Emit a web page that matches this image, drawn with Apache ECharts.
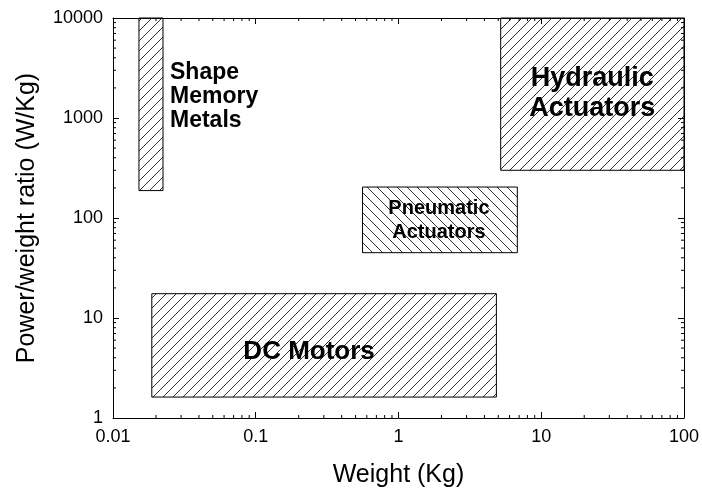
<!DOCTYPE html>
<html><head><meta charset="utf-8">
<script src="https://cdn.jsdelivr.net/npm/echarts@6/dist/echarts.min.js"></script>
<style>html,body{margin:0;padding:0;background:#fff}#c{width:702px;height:494px}</style>
</head><body><div id="c"></div>
<script>
// Region data (weight in Kg, power/weight ratio in W/Kg)
const names = ['Shape\nMemory\nMetals', 'Hydraulic\nActuators', 'Pneumatic\nActuators', 'DC Motors'];
const weightMin = [0.0152, 5.2, 0.56, 0.0187];
const weightMax = [0.0224, 100, 6.8, 4.85];
const ratioMin = [188, 300, 45, 1.62];
const ratioMax = [10000, 10000, 204, 17.5];
const hatchDir = ['/', '/', '\\', '/'];
const xMinorTicks = [];
const yMinorTicks = [];
[0.01, 0.1, 1, 10].forEach(d => { for (let k = 2; k <= 9; k++) xMinorTicks.push(+(d * k).toPrecision(3)); });
[1, 10, 100, 1000].forEach(d => { for (let k = 2; k <= 9; k++) yMinorTicks.push(d * k); });

function hatch(dir) {
  const s = 10, c = document.createElement('canvas');
  c.width = s; c.height = s;
  const g = c.getContext('2d');
  g.strokeStyle = '#333'; g.lineWidth = 1;
  g.beginPath();
  if (dir === '/') {
    g.moveTo(-1, s + 1); g.lineTo(s + 1, -1);
    g.moveTo(-2, 2); g.lineTo(2, -2);
    g.moveTo(s - 2, s + 2); g.lineTo(s + 2, s - 2);
  } else {
    g.moveTo(-1, -1); g.lineTo(s + 1, s + 1);
    g.moveTo(-2, s - 2); g.lineTo(2, s + 2);
    g.moveTo(s - 2, -2); g.lineTo(s + 2, 2);
  }
  g.stroke();
  return c;
}

const labelStyle = [
  {size: 23, lh: 24, mode: 'right'},
  {size: 27, lh: 30, mode: 'center', dx: 0, dy: -1},
  {size: 20, lh: 24, mode: 'center', dx: -1, dy: 1},
  {size: 26, lh: 30, mode: 'center', dx: -15, dy: 6}
];

const chart = echarts.init(document.getElementById('c'), null, {renderer: 'canvas'});
const axisCommon = {
  axisLine: {show: true, lineStyle: {color: '#000', width: 1}},
  axisTick: {show: true, inside: true, length: 6, lineStyle: {color: '#000'}},
  splitLine: {show: false},
  minorTick: {show: false}
};
const FONT = 'Liberation Sans, Arial, sans-serif';
const labelFont = {color: '#000', fontSize: 18, fontFamily: FONT};
chart.setOption({
  animation: false,
  backgroundColor: '#fff',
  grid: {left: 113, right: 17, top: 18, bottom: 76},
  xAxis: [
    Object.assign({type: 'log', logBase: 10, min: 0.01, max: 100, position: 'bottom',
      name: 'Weight (Kg)', nameLocation: 'middle', nameGap: 45,
      nameTextStyle: {color: '#000', fontSize: 25, fontFamily: FONT},
      axisLabel: Object.assign({margin: 10, formatter: v => String(+v.toPrecision(3))}, labelFont)}, axisCommon),
    Object.assign({type: 'log', logBase: 10, min: 0.01, max: 100, position: 'top', axisLabel: {show: false}}, axisCommon)
  ],
  yAxis: [
    Object.assign({type: 'log', logBase: 10, min: 1, max: 10000, position: 'left',
      name: 'Power/weight ratio (W/Kg)', nameLocation: 'middle', nameGap: 73,
      nameTextStyle: {color: '#000', fontSize: 25, fontFamily: FONT},
      axisLabel: Object.assign({margin: 10, formatter: v => String(Math.round(v))}, labelFont)}, axisCommon),
    Object.assign({type: 'log', logBase: 10, min: 1, max: 10000, position: 'right', axisLabel: {show: false}}, axisCommon)
  ],
  series: [
    {
      type: 'custom', xAxisIndex: 0, yAxisIndex: 0, clip: false, z: 2,
      data: names.map((n, i) => [weightMin[i], weightMax[i], ratioMin[i], ratioMax[i]]),
      renderItem: function (params, api) {
        const i = params.dataIndex;
        const p1 = api.coord([api.value(0), api.value(3)]);
        const p2 = api.coord([api.value(1), api.value(2)]);
        const ls = labelStyle[i];
        let tx, ty, align;
        if (ls.mode === 'right') {
          tx = p2[0] + 7; ty = p1[1] + 79; align = 'left';
        } else {
          tx = (p1[0] + p2[0]) / 2 + (ls.dx || 0); ty = (p1[1] + p2[1]) / 2 + (ls.dy || 0); align = 'center';
        }
        return {
          type: 'group',
          children: [
            {type: 'rect', shape: {x: p1[0], y: p1[1], width: p2[0] - p1[0], height: p2[1] - p1[1]},
              style: {fill: {image: hatch(hatchDir[i]), repeat: 'repeat'}, stroke: '#000', lineWidth: 1}},
            {type: 'text', z2: 10, x: tx, y: ty,
              style: {text: names[i], fill: '#000', fontSize: ls.size, fontWeight: 'bold',
                fontFamily: FONT, align: align, verticalAlign: 'middle', lineHeight: ls.lh}}
          ]
        };
      }
    },
    {
      type: 'custom', xAxisIndex: 0, yAxisIndex: 0, clip: false, z: 3, silent: true,
      data: xMinorTicks.map(v => [v]),
      renderItem: function (params, api) {
        const b = api.coord([api.value(0), 1]);
        const t = api.coord([api.value(0), 10000]);
        return {type: 'group', children: [
          {type: 'line', shape: {x1: b[0], y1: b[1], x2: b[0], y2: b[1] - 3}, style: {stroke: '#000', lineWidth: 1}},
          {type: 'line', shape: {x1: t[0], y1: t[1], x2: t[0], y2: t[1] + 3}, style: {stroke: '#000', lineWidth: 1}}
        ]};
      }
    },
    {
      type: 'custom', xAxisIndex: 0, yAxisIndex: 0, clip: false, z: 3, silent: true,
      data: yMinorTicks.map(v => [0.01, v]),
      renderItem: function (params, api) {
        const l = api.coord([0.01, api.value(1)]);
        const r = api.coord([100, api.value(1)]);
        return {type: 'group', children: [
          {type: 'line', shape: {x1: l[0], y1: l[1], x2: l[0] + 3, y2: l[1]}, style: {stroke: '#000', lineWidth: 1}},
          {type: 'line', shape: {x1: r[0], y1: r[1], x2: r[0] - 3, y2: r[1]}, style: {stroke: '#000', lineWidth: 1}}
        ]};
      }
    }
  ]
});
</script></body></html>
